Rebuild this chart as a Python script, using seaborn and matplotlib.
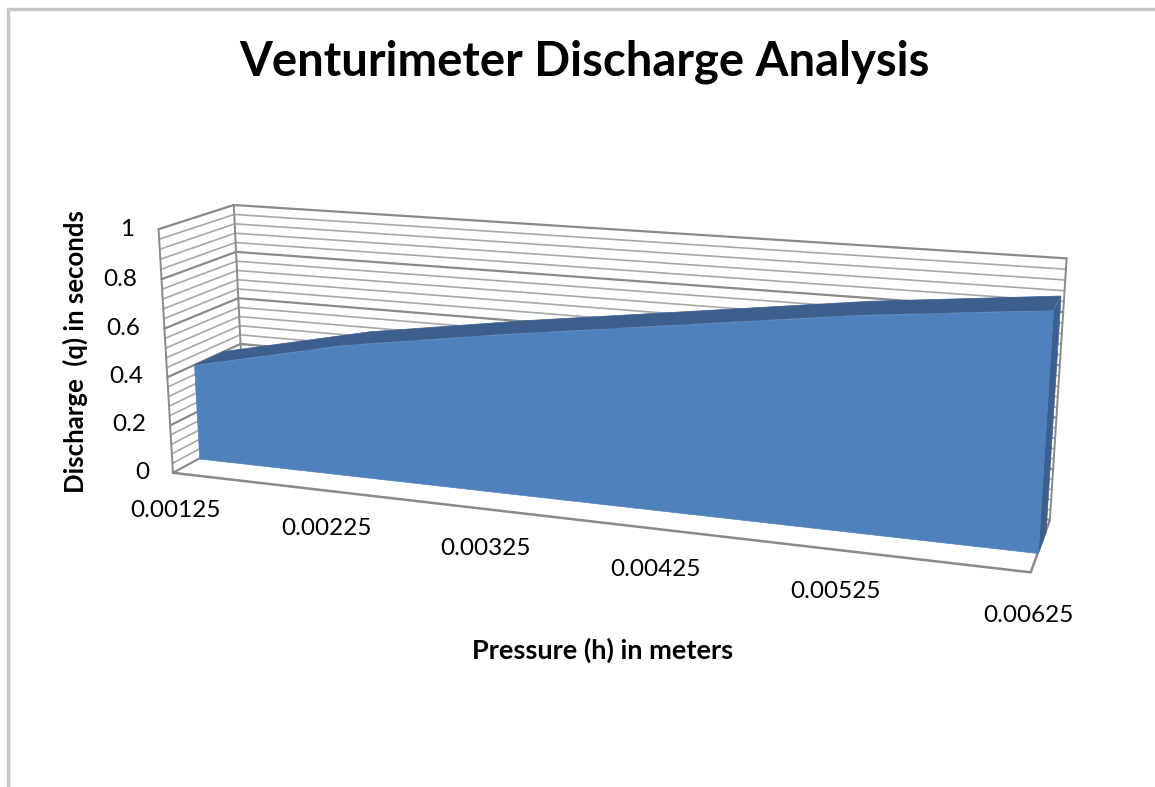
import numpy as np
import matplotlib
matplotlib.use("Agg")
import matplotlib.pyplot as plt
import matplotlib.patches as mpatches
import seaborn as sns
from mpl_toolkits.mplot3d.art3d import Poly3DCollection

# data
pressure = [0.00125, 0.00225, 0.00325, 0.00425, 0.00525, 0.00625]
pressure_labels = ["0.00125", "0.00225", "0.00325", "0.00425", "0.00525", "0.00625"]
discharge = [0.40, 0.54, 0.64, 0.73, 0.82, 0.89]
value_ticks = [0, 0.2, 0.4, 0.6, 0.8, 1]
value_labels = ["0", "0.2", "0.4", "0.6", "0.8", "1"]
minor_ticks = np.round(np.arange(0, 1.0001, 0.04), 2)

sns.set_style("white")
plt.rcParams['font.family'] = ['Lato', 'DejaVu Sans']
plt.rcParams['text.color'] = 'black'

face_col = "#4F81BD"
dark_col = "#3C5F8E"
grid_col = "#A8A8A8"
major_col = "#8A8A8A"

fig = plt.figure(figsize=(11.55, 7.87), dpi=100)
ax = fig.add_axes([0.006, 0.0144, 1.0, 1.0], projection='3d', computed_zorder=False)
ax.set_proj_type('persp', focal_length=0.45)
ax.view_init(elev=14.8, azim=-70.7)
ax.set_box_aspect((4.2, 0.72, 1.23), zoom=1.16)
ax.set_axis_off()

x0, x1 = pressure[0], pressure[-1]
ax.set_xlim(x0, x1)
ax.set_ylim(0, 1)
ax.set_zlim(0, 1)

# walls with gridlines
for z in minor_ticks:
    major = np.isclose(z, value_ticks).any()
    c = major_col if major else grid_col
    lw = 1.6 if major else 1.2
    ax.plot([x0, x0], [0, 1], [z, z], color=c, lw=lw, zorder=1, clip_on=False)
    ax.plot([x0, x1], [1, 1], [z, z], color=c, lw=lw, zorder=1, clip_on=False)
for yy, xx in [(0, x0), (1, x0), (1, x1)]:
    ax.plot([xx, xx], [yy, yy], [0, 1], color=major_col, lw=1.4, zorder=1, clip_on=False)

# floor outline
ax.plot([x0, x1, x1], [0, 0, 1], [0, 0, 0], color=major_col, lw=1.8, zorder=2, clip_on=False)

# 3D area slab
ys, ye = 0.35, 0.76
front = [(p, ys, v) for p, v in zip(pressure, discharge)] + [(x1, ys, 0), (x0, ys, 0)]
tops = [[(pressure[i], ys, discharge[i]), (pressure[i + 1], ys, discharge[i + 1]),
         (pressure[i + 1], ye, discharge[i + 1]), (pressure[i], ye, discharge[i])]
        for i in range(len(pressure) - 1)]
side = [[(x1, ys, 0), (x1, ye, 0), (x1, ye, discharge[-1]), (x1, ys, discharge[-1])]]
for polys, col, zo in [(tops, dark_col, 3), (side, dark_col, 4), ([front], face_col, 5)]:
    pc = Poly3DCollection(polys, facecolor=col, edgecolor=col, lw=0.5, zorder=zo)
    ax.add_collection3d(pc)
    pc.set_clip_on(False)

# tick labels
for z, lab in zip(value_ticks, value_labels):
    ax.text(x0 - 0.00016, 0, z, lab, ha='right', va='center_baseline', fontsize=17.5,
            zorder=6, clip_on=False)
for p, lab in zip(pressure, pressure_labels):
    ax.text(p, 0, -0.16, lab, ha='center', va='center', fontsize=17.5, zorder=6, clip_on=False)

fig.text(0.506, 0.922, "Venturimeter Discharge Analysis", ha='center', va='center',
         fontsize=34, fontweight='bold')
fig.text(0.522, 0.174, "Pressure (h) in meters", ha='center', va='center',
         fontsize=19.5, fontweight='bold')
fig.text(0.065, 0.553, "Discharge  (q) in seconds", ha='center', va='center',
         rotation=90, fontsize=18.5, fontweight='bold')

fig.add_artist(mpatches.Rectangle((0.007, -0.05), 1.1, 1.0386, transform=fig.transFigure,
                                  fill=False, edgecolor='#C6C6C6', lw=2.5))

fig.savefig("out.png", dpi=100)
